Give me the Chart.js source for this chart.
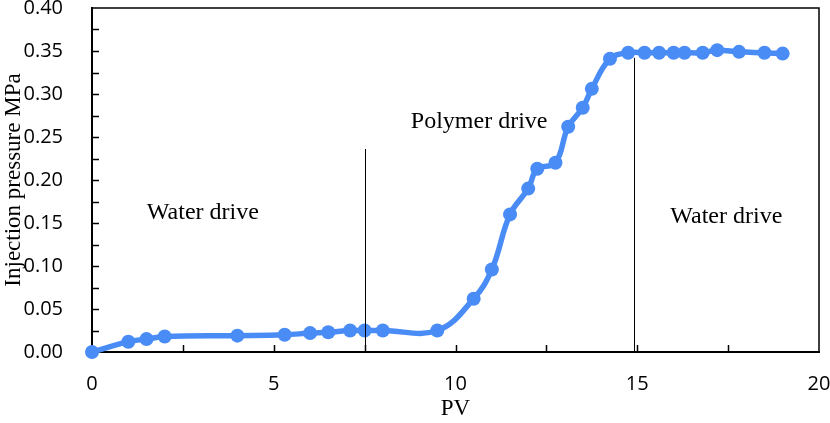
<!DOCTYPE html>
<html>
<head>
<meta charset="utf-8">
<script src="https://cdn.jsdelivr.net/npm/chart.js@4.4.0/dist/chart.umd.min.js"></script>
<style>
  html, body { margin: 0; padding: 0; background: #ffffff; }
  #wrap { width: 830px; height: 423px; position: relative; }
</style>
</head>
<body>
<div id="wrap"><canvas id="c" width="830" height="423"></canvas></div>
<script>
// ---- data ----
const pvValues = [0, 1, 1.5, 2, 4, 5.3, 6, 6.5, 7.1, 7.5, 8, 9.5, 10.5, 11, 11.5, 12, 12.25, 12.75, 13.1, 13.5, 13.75, 14.25, 14.75, 15.2, 15.6, 16, 16.3, 16.8, 17.2, 17.8, 18.5, 19];
const pressureValues = [0, 0.012, 0.015, 0.018, 0.019, 0.020, 0.022, 0.023, 0.025, 0.025, 0.025, 0.025, 0.062, 0.096, 0.160, 0.190, 0.213, 0.220, 0.262, 0.284, 0.306, 0.341, 0.348, 0.348, 0.348, 0.348, 0.348, 0.348, 0.351, 0.349, 0.348, 0.347];
const xTickValues = [0, 5, 10, 15, 20];
const yTickValues = [0, 0.05, 0.10, 0.15, 0.20, 0.25, 0.30, 0.35, 0.40];
const dividerPV = [7.5, 14.9];
const dividerTop = [0.236, 0.342];
const regionLabels = ["Water drive", "Polymer drive", "Water drive"];
const regionLabelPV = [3.05, 10.65, 17.45];
const regionLabelP = [0.162, 0.268, 0.157];

const points = pvValues.map((x, i) => ({ x: x, y: pressureValues[i] }));
const lineColor = 'rgb(74,140,245)';

const decorPlugin = {
  id: 'decor',
  afterDatasetsDraw(chart) {
    const { ctx, chartArea: a, scales } = chart;
    const xs = scales.x, ys = scales.y;
    ctx.save();
    // box top/right
    ctx.strokeStyle = '#000';
    ctx.lineWidth = 1.5;
    ctx.beginPath();
    ctx.moveTo(a.left, a.top); ctx.lineTo(a.right, a.top); ctx.lineTo(a.right, a.bottom);
    ctx.stroke();
    // inner ticks
    ctx.lineWidth = 1.5;
    ctx.beginPath();
    for (let v = 0.025; v < 0.4; v += 0.025) {
      const y = Math.round(ys.getPixelForValue(v)) + 0.5;
      ctx.moveTo(a.left, y); ctx.lineTo(a.left + 7, y);
    }
    for (let v = 2.5; v < 20; v += 2.5) {
      const x = Math.round(xs.getPixelForValue(v)) + 0.5;
      ctx.moveTo(x, a.bottom); ctx.lineTo(x, a.bottom - 7);
    }
    ctx.stroke();
    // divider lines
    ctx.lineWidth = 1;
    ctx.beginPath();
    dividerPV.forEach((pv, i) => {
      const x = Math.round(xs.getPixelForValue(pv)) + 0.5;
      ctx.moveTo(x, ys.getPixelForValue(dividerTop[i]));
      ctx.lineTo(x, a.bottom);
    });
    ctx.stroke();
    // labels
    ctx.fillStyle = '#000';
    ctx.font = '24px "Liberation Serif", "Times New Roman", serif';
    ctx.textAlign = 'center';
    ctx.textBaseline = 'middle';
    regionLabels.forEach((t, i) => {
      ctx.fillText(t, xs.getPixelForValue(regionLabelPV[i]), ys.getPixelForValue(regionLabelP[i]));
    });
    ctx.restore();
  }
};

new Chart(document.getElementById('c'), {
  type: 'line',
  data: {
    datasets: [{
      data: points,
      borderColor: lineColor,
      backgroundColor: lineColor,
      borderWidth: 5.5,
      pointRadius: 7,
      pointHoverRadius: 7,
      pointBorderWidth: 0,
      tension: 0.4,
      fill: false,
      clip: false
    }]
  },
  options: {
    responsive: false,
    animation: false,
    devicePixelRatio: 1,
    layout: { padding: { left: 0, top: 8, right: 11, bottom: 0 } },
    plugins: { legend: { display: false }, tooltip: { enabled: false } },
    scales: {
      x: {
        type: 'linear',
        min: 0, max: 20,
        afterBuildTicks(s) { s.ticks = xTickValues.map(v => ({ value: v })); },
        afterFit(s) { s.height = 71; s.paddingLeft = 0; s.paddingRight = 0; },
        grid: { display: false, drawTicks: false },
        border: { display: true, color: '#000', width: 2 },
        ticks: {
          padding: 20,
          color: '#000',
          font: { family: '"Open Sans", "Liberation Sans", sans-serif', size: 20 },
          callback: v => String(v),
          maxRotation: 0
        },
        title: {
          display: true, text: 'PV', color: '#000',
          font: { family: '"Liberation Serif", "Times New Roman", serif', size: 23 },
          padding: { top: 0, bottom: 0 }
        }
      },
      y: {
        min: 0, max: 0.4,
        afterBuildTicks(s) { s.ticks = yTickValues.map(v => ({ value: v })); },
        afterFit(s) { s.width = 92; s.paddingTop = 0; s.paddingBottom = 0; },
        grid: { display: false, drawTicks: false },
        border: { display: true, color: '#000', width: 2 },
        ticks: {
          padding: 29,
          color: '#000',
          font: { family: '"Open Sans", "Liberation Sans", sans-serif', size: 20 },
          callback: v => Number(v).toFixed(2)
        },
        title: {
          display: true, text: 'Injection pressure MPa', color: '#000',
          font: { family: '"Liberation Serif", "Times New Roman", serif', size: 23 },
          padding: { top: 0, bottom: 0 }
        }
      }
    }
  },
  plugins: [decorPlugin]
});
</script>
</body>
</html>
